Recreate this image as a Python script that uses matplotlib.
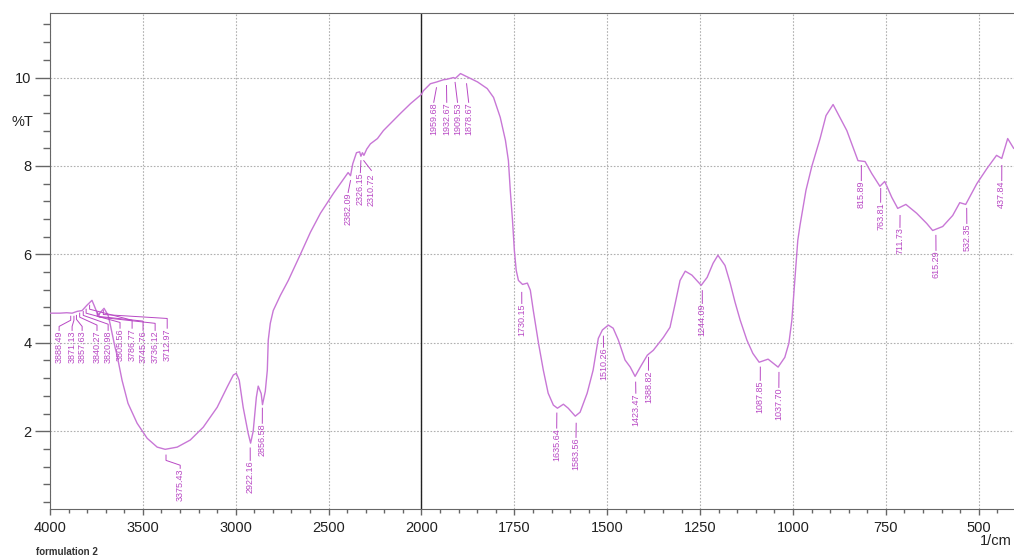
import numpy as np
import matplotlib
matplotlib.use("Agg")
import matplotlib.pyplot as plt

plt.rcParams['font.family'] = ['Liberation Sans', 'DejaVu Sans']

# spectrum (wavenumber 1/cm, %T)
wavenumber = [4000, 3989, 3946, 3910, 3881, 3854, 3827, 3801, 3774, 3763, 3741,
              3720, 3709, 3687, 3677, 3650, 3639, 3612, 3580, 3531, 3477, 3423,
              3380, 3315, 3245, 3175, 3100, 3046, 3013, 2997, 2981, 2960, 2933,
              2920, 2906, 2889, 2879, 2863, 2856, 2841, 2830, 2825, 2814, 2798,
              2760, 2717, 2652, 2598, 2544, 2474, 2420, 2395, 2382, 2370, 2350,
              2333, 2326, 2318, 2310, 2295, 2275, 2237, 2205, 2113, 2059, 2000,
              1995, 1976, 1959, 1941, 1932, 1914, 1909, 1895, 1878, 1849, 1823,
              1806, 1788, 1774, 1766, 1761, 1755, 1750, 1745, 1739, 1728, 1715,
              1707, 1699, 1685, 1672, 1659, 1645, 1634, 1618, 1605, 1586, 1573,
              1554, 1538, 1524, 1513, 1497, 1484, 1470, 1452, 1438, 1425, 1411,
              1392, 1376, 1349, 1331, 1317, 1304, 1290, 1272, 1247, 1231, 1215,
              1202, 1183, 1169, 1156, 1142, 1124, 1108, 1091, 1067, 1040, 1022,
              1011, 1003, 995, 987, 981, 965, 949, 927, 911, 892, 855, 825, 806,
              788, 766, 753, 734, 718, 696, 667, 640, 624, 597, 570, 551, 535,
              505, 478, 452, 438, 422, 406]
transmittance = [4.67, 4.67, 4.67, 4.68, 4.67, 4.71, 4.73, 4.85, 4.96, 4.85, 4.62,
                 4.73, 4.78, 4.62, 4.44, 3.90, 3.72, 3.15, 2.63, 2.18, 1.84, 1.64,
                 1.59, 1.64, 1.80, 2.09, 2.54, 3.00, 3.27, 3.31, 3.15, 2.54, 1.95,
                 1.73, 2.00, 2.77, 3.02, 2.85, 2.60, 2.90, 3.38, 4.06, 4.44, 4.73,
                 5.07, 5.41, 6.00, 6.50, 6.93, 7.38, 7.70, 7.85, 7.78, 8.05, 8.30,
                 8.32, 8.22, 8.30, 8.24, 8.38, 8.50, 8.62, 8.80, 9.19, 9.41, 9.62,
                 9.70, 9.86, 9.90, 9.95, 9.96, 10.00, 9.98, 10.09, 10.02, 9.90, 9.75,
                 9.55, 9.10, 8.58, 8.12, 7.45, 6.77, 6.09, 5.64, 5.41, 5.32, 5.35,
                 5.19, 4.73, 3.99, 3.38, 2.86, 2.59, 2.52, 2.61, 2.52, 2.34, 2.43,
                 2.86, 3.38, 4.10, 4.29, 4.40, 4.33, 4.06, 3.61, 3.45, 3.24, 3.45,
                 3.72, 3.83, 4.12, 4.35, 4.89, 5.41, 5.62, 5.53, 5.30, 5.48, 5.80,
                 5.98, 5.75, 5.35, 4.92, 4.51, 4.06, 3.76, 3.56, 3.63, 3.45, 3.67,
                 3.99, 4.51, 5.41, 6.32, 6.66, 7.45, 8.00, 8.62, 9.14, 9.39, 8.80,
                 8.12, 8.10, 7.83, 7.54, 7.65, 7.29, 7.04, 7.13, 6.93, 6.70, 6.54,
                 6.63, 6.88, 7.17, 7.13, 7.60, 7.94, 8.24, 8.17, 8.62, 8.40]

# peak labels
peak_text = ["3888.49", "3871.13", "3857.63", "3840.27", "3820.98", "3805.56",
             "3786.77", "3745.76", "3736.12", "3712.97", "3375.43", "2922.16",
             "2856.58", "2382.09", "2326.15", "2310.72", "1959.68", "1932.67",
             "1909.53", "1878.67", "1730.15", "1635.64", "1583.56", "1510.26",
             "1423.47", "1388.82", "1244.09", "1087.85", "1037.70", "815.89",
             "763.81", "711.73", "615.29", "532.35", "437.84"]
peak_wn = [float(s) for s in peak_text]

# leader geometry per label: start T, kink T, text x (1/cm), text top T
lead_t0 = [4.60, 4.60, 4.62, 4.67, 4.71, 4.76, 4.85, 4.69, 4.67, 4.73, 1.46, 1.62,
           2.52, 7.67, 8.12, 8.12, 9.77, 9.82, 9.89, 9.86, 5.14, 2.41, 2.18, 4.15,
           3.11, 3.67, 5.18, 3.45, 3.33, 8.01, 7.49, 6.88, 6.43, 7.04, 8.01]
lead_t1 = [4.51, 4.51, 4.53, 4.58, 4.62, 4.67, 4.76, 4.60, 4.58, 4.64, 1.34, 1.34,
           2.18, 7.40, 7.85, 7.90, 9.44, 9.44, 9.44, 9.44, 4.89, 2.07, 1.86, 3.90,
           2.86, 3.38, 4.89, 3.15, 2.99, 7.67, 7.18, 6.61, 6.09, 6.70, 7.67]
text_wn = [3951, 3881, 3827, 3747, 3687, 3623, 3558, 3499, 3434, 3369, 3299, 2922,
           2857, 2395, 2329, 2270, 1967, 1932, 1903, 1873, 1730, 1636, 1584, 1510,
           1423, 1389, 1244, 1088, 1038, 816, 764, 712, 615, 532, 438]
text_top = [4.28, 4.28, 4.28, 4.28, 4.28, 4.33, 4.33, 4.28, 4.28, 4.33, 1.16, 1.34,
            2.18, 7.40, 7.85, 7.83, 9.44, 9.44, 9.44, 9.44, 4.89, 2.07, 1.86, 3.90,
            2.86, 3.38, 4.89, 3.15, 2.99, 7.67, 7.18, 6.61, 6.09, 6.70, 7.67]
kink_t = [4.37, 4.37, 4.37, 4.40, 4.42, 4.46, 4.51, 4.49, 4.44, 4.55, 1.23]

x_major = [4000, 3500, 3000, 2500, 2000, 1750, 1500, 1250, 1000, 750, 500]


def fwd(x):
    x = np.asarray(x, float)
    return np.where(x >= 2000, x / 2 + 1000, x)


def inv(u):
    u = np.asarray(u, float)
    return np.where(u >= 2000, (u - 1000) * 2, u)


line_col = '#c877d6'
text_col = '#b848c4'

fig = plt.figure(figsize=(10.14, 5.59), dpi=100)
ax = fig.add_axes([50 / 1014, 50 / 559, 964 / 1014, 496 / 559])
ax.set_xscale('function', functions=(fwd, inv))
ax.set_xlim(4000, 405)
ax.set_ylim(0.24, 11.46)

ax.plot(wavenumber, transmittance, color=line_col, lw=1.0, zorder=3)

for i, txt in enumerate(peak_text):
    wn = peak_wn[i]
    tx = text_wn[i]
    if i < len(kink_t):
        xs = [wn, wn, tx, tx]
        ys = [lead_t0[i], lead_t1[i], kink_t[i], text_top[i]]
    else:
        xs = [wn, tx]
        ys = [lead_t0[i], lead_t1[i]]
    ax.plot(xs, ys, color=text_col, lw=0.7, zorder=3)
    ax.text(tx, text_top[i], txt, rotation=90, ha='center', va='top',
            fontsize=6.5, color=text_col, zorder=4)

ax.set_xticks(x_major)
ax.set_xticklabels([str(v) for v in x_major])
minor = list(range(3900, 2000, -100)) + list(range(1950, 400, -50))
ax.set_xticks(minor, minor=True)
ax.set_yticks([2, 4, 6, 8, 10])
ax.set_yticks(np.arange(0.4, 11.45, 0.4), minor=True)

ax.grid(which='major', color='#b0b0b0', linestyle=(0, (1.5, 1.5)), lw=0.8)
ax.axvline(2000, color='#222222', lw=1.0, zorder=2)

for s in ['left', 'top', 'bottom']:
    ax.spines[s].set_color('#666666')
ax.spines['right'].set_visible(False)

# tick lengths in points (px * 0.72)
ax.tick_params(axis='x', which='major', length=4.3, width=1, color='#666666',
               labelsize=10.5, pad=4, labelcolor='#222222')
ax.tick_params(axis='x', which='minor', length=2.9, width=1, color='#666666')
ax.tick_params(axis='y', which='major', length=10.8, width=1, color='#666666',
               labelsize=10.5, pad=2.5, labelcolor='#222222')
ax.tick_params(axis='y', which='minor', length=5, width=1, color='#666666')

fig.text(22 / 1014, 1 - 122 / 559, '%T', fontsize=10.5, ha='center', va='center',
         color='#222222')
fig.text(1012 / 1014, 1 - 541 / 559, '1/cm', fontsize=10.5, ha='right',
         va='center', color='#222222')
fig.text(36 / 1014, 1 - 552 / 559, 'formulation 2', fontsize=7, ha='left',
         va='center', color='#333333', fontweight='bold')

fig.savefig('out.png', dpi=100)
